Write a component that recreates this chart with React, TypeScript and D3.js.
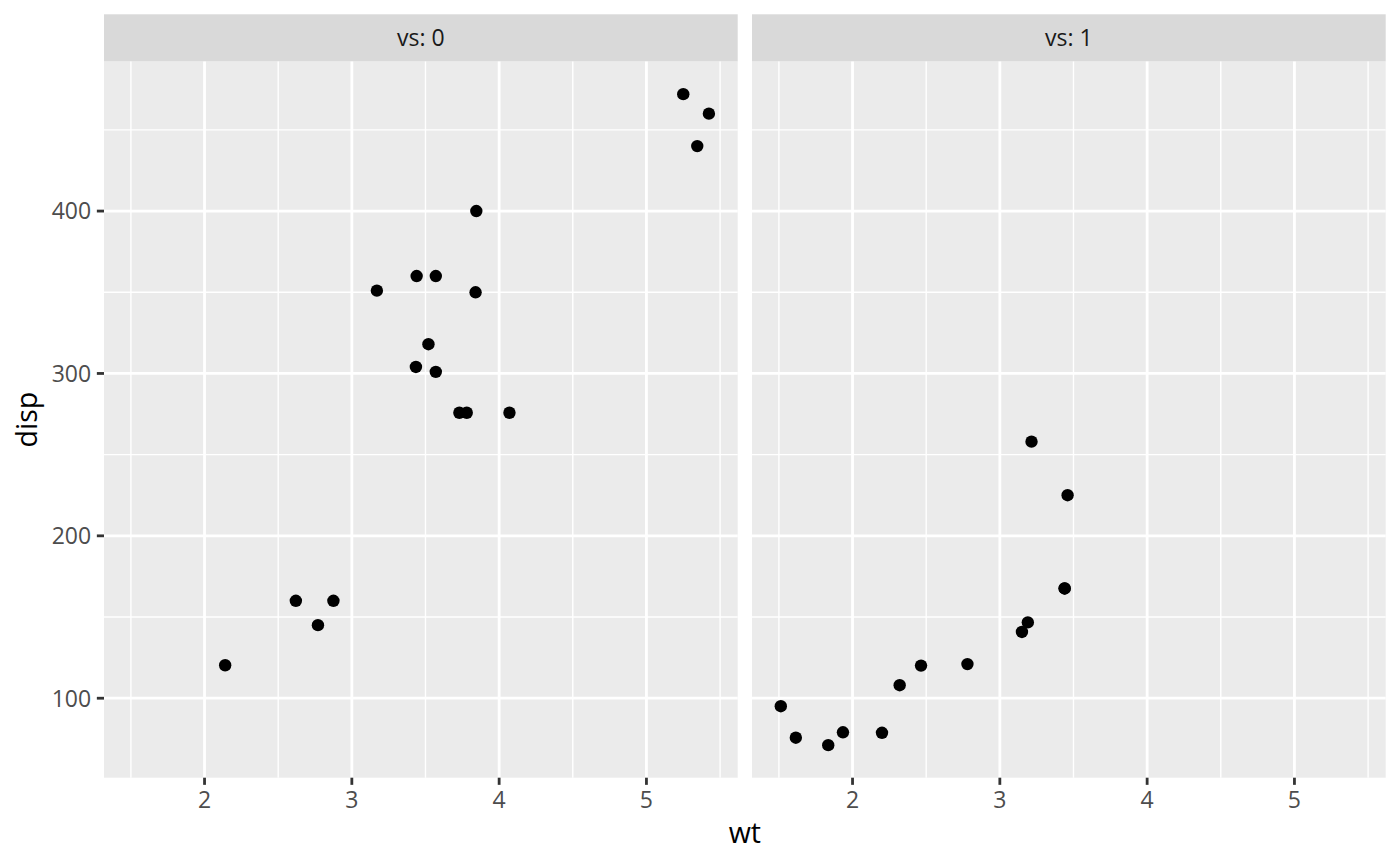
import React from 'react';
import * as d3 from 'd3';

// mtcars: weight (1000 lbs), displacement (cu.in.), engine shape (vs)
const carWt = [
  2.62, 2.875, 2.32, 3.215, 3.44, 3.46, 3.57, 3.19, 3.15, 3.44, 3.44, 4.07, 3.73, 3.78, 5.25, 5.424,
  5.345, 2.2, 1.615, 1.835, 2.465, 3.52, 3.435, 3.84, 3.845, 1.935, 2.14, 1.513, 3.17, 2.77, 3.57, 2.78,
];
const carDisp = [
  160, 160, 108, 258, 360, 225, 360, 146.7, 140.8, 167.6, 167.6, 275.8, 275.8, 275.8, 472, 460, 440,
  78.7, 75.7, 71.1, 120.1, 318, 304, 350, 400, 79, 120.3, 95.1, 351, 145, 301, 121,
];
const carVs = [0, 0, 1, 1, 0, 1, 0, 1, 1, 1, 1, 0, 0, 0, 0, 0, 0, 1, 1, 1, 1, 0, 0, 0, 0, 1, 0, 1, 0, 0, 0, 1];

const facetLevels = [0, 1];
const xBreaks = [2, 3, 4, 5];
const xMinor = [1.5, 2.5, 3.5, 4.5, 5.5];
const yBreaks = [100, 200, 300, 400];
const yMinor = [150, 250, 350, 450];

const W = 1400;
const H = 866;
const pt = 2.6;
const margin = 5.5 * pt;
const panelLeft = 104;
const stripTop = margin;
const stripH = 47.3;
const panelTop = stripTop + stripH;
const panelBottom = 777.7;
const gap = 5.5 * pt;
const plotRight = W - margin;
const panelW = (plotRight - panelLeft - gap) / 2;
const tickLen = 2.75 * pt;

const font = '"Open Sans", "Noto Sans", sans-serif';

function expand(ext: [number, number]): [number, number] {
  const d = (ext[1] - ext[0]) * 0.05;
  return [ext[0] - d, ext[1] + d];
}

export default function App() {
  const x = d3
    .scaleLinear()
    .domain(expand(d3.extent(carWt) as [number, number]))
    .range([0, panelW]);
  const y = d3
    .scaleLinear()
    .domain(expand(d3.extent(carDisp) as [number, number]))
    .range([panelBottom, panelTop]);

  const inX = (v: number) => v >= x.domain()[0] && v <= x.domain()[1];
  const inY = (v: number) => v >= y.domain()[0] && v <= y.domain()[1];

  return (
    <svg
      width={W}
      height={H}
      style={{ position: 'absolute', left: 0, top: 0, background: '#fff' }}
      fontFamily={font}
    >
      {facetLevels.map((lvl, i) => {
        const x0 = panelLeft + i * (panelW + gap);
        return (
          <g key={lvl} transform={`translate(${x0},0)`}>
            {/* strip */}
            <rect x={0} y={stripTop} width={panelW} height={stripH} fill="#D9D9D9" />
            <text
              x={panelW / 2}
              y={stripTop + stripH / 2}
              dy="0.36em"
              textAnchor="middle"
              fontSize={23}
              fill="#1A1A1A"
            >
              {`vs: ${lvl}`}
            </text>
            {/* panel */}
            <rect x={0} y={panelTop} width={panelW} height={panelBottom - panelTop} fill="#EBEBEB" />
            {yMinor.filter(inY).map((v) => (
              <line key={`ym${v}`} x1={0} x2={panelW} y1={y(v)} y2={y(v)} stroke="#fff" strokeWidth={1.4} />
            ))}
            {xMinor.filter(inX).map((v) => (
              <line key={`xm${v}`} x1={x(v)} x2={x(v)} y1={panelTop} y2={panelBottom} stroke="#fff" strokeWidth={1.4} />
            ))}
            {yBreaks.map((v) => (
              <line key={`y${v}`} x1={0} x2={panelW} y1={y(v)} y2={y(v)} stroke="#fff" strokeWidth={2.8} />
            ))}
            {xBreaks.map((v) => (
              <line key={`x${v}`} x1={x(v)} x2={x(v)} y1={panelTop} y2={panelBottom} stroke="#fff" strokeWidth={2.8} />
            ))}
            {/* points */}
            {carWt.map((w, j) =>
              carVs[j] === lvl ? <circle key={j} cx={x(w)} cy={y(carDisp[j])} r={6.2} fill="#000" /> : null
            )}
            {/* x axis */}
            {xBreaks.map((v) => (
              <g key={`xt${v}`} transform={`translate(${x(v)},${panelBottom})`}>
                <line y1={0} y2={tickLen} stroke="#333333" strokeWidth={2.8} />
                <text y={tickLen + 2.2 * pt} dy="0.76em" textAnchor="middle" fontSize={23} fill="#4D4D4D">
                  {v}
                </text>
              </g>
            ))}
          </g>
        );
      })}
      {/* y axis */}
      {yBreaks.map((v) => (
        <g key={`yt${v}`} transform={`translate(${panelLeft},${y(v)})`}>
          <line x1={-tickLen} x2={0} stroke="#333333" strokeWidth={2.8} />
          <text x={-tickLen - 2.2 * pt} dy="0.36em" textAnchor="end" fontSize={23} fill="#4D4D4D">
            {v}
          </text>
        </g>
      ))}
      {/* axis titles */}
      <text x={(panelLeft + plotRight) / 2} y={843} textAnchor="middle" fontSize={28.6} fill="#000">
        wt
      </text>
      <text
        transform={`translate(37,${(panelTop + panelBottom) / 2}) rotate(-90)`}
        textAnchor="middle"
        fontSize={28.6}
        fill="#000"
      >
        disp
      </text>
    </svg>
  );
}
